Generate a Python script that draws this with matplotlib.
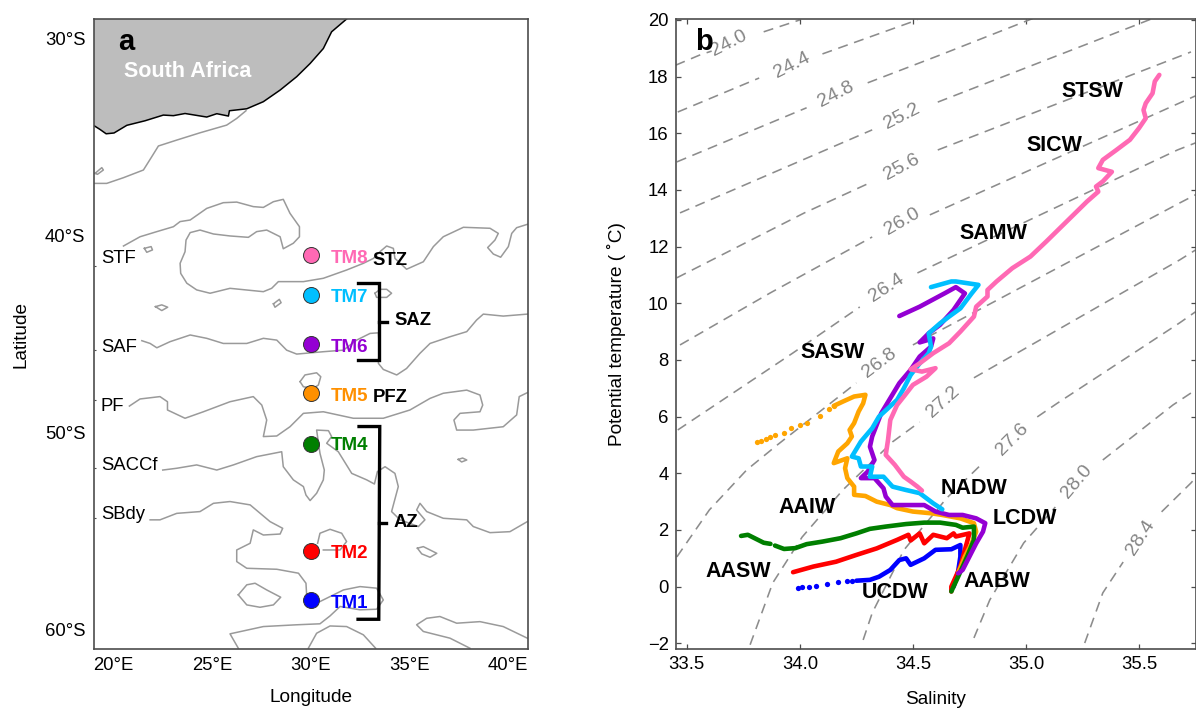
import matplotlib
matplotlib.use("Agg")
import matplotlib.pyplot as plt

plt.rcParams["font.family"] = ["Liberation Sans", "DejaVu Sans"]

# ---- panel a: map data (lon in deg E, lat in deg S) ----
coast_lon = [19.02, 19.32, 19.63, 20.03, 20.68, 21.6, 22.53, 23.04, 23.63, 24.73, 25.24, 25.83, 25.88,
             26.76, 27.6, 28.45, 29.29, 29.97, 30.64, 31.06, 31.82]
coast_lat = [34.42, 34.61, 34.83, 34.79, 34.4, 34.17, 33.88, 33.91, 33.8, 33.98, 33.81, 33.93, 33.66,
             33.56, 33.2, 32.61, 31.93, 31.26, 30.5, 29.65, 29.0]

agulhas_lon = [19.02, 19.66, 20.51, 21.52, 21.94, 22.28, 23.21, 24.39, 25.74, 26.25, 26.72]
agulhas_lat = [37.35, 37.35, 37.06, 36.67, 36.0, 35.45, 35.15, 34.78, 34.39, 34.05, 33.66]

stf_lon = [20.51, 21.35, 22.2, 23.04, 23.38, 23.89, 24.73, 25.57, 26.25, 27.09, 27.6, 28.11, 28.61, 28.95,
           29.43, 29.43, 29.12, 28.61, 28.45, 27.77, 27.26, 26.84, 25.91, 25.07, 24.39, 23.89, 23.68, 23.63,
           23.38, 23.41, 23.72, 24.22, 24.9, 25.91, 27.6, 28.02, 28.36, 29.63, 30.64, 31.82, 32.67, 33.18,
           33.51, 33.85, 34.19, 34.27, 34.86, 35.71, 36.22, 36.72, 37.74, 39.09, 39.51, 39.34, 38.97, 39.26,
           39.63, 40.02, 40.19, 40.44, 40.98]
stf_lat = [40.53, 40.06, 39.8, 39.55, 39.29, 39.21, 38.62, 38.33, 38.3, 38.53, 38.57, 38.28, 38.16, 38.87,
           39.55, 40.06, 40.39, 40.67, 40.06, 39.72, 39.8, 40.09, 40.02, 39.92, 39.72, 39.85, 40.23, 40.82,
           41.41, 41.92, 42.42, 42.76, 42.93, 42.68, 42.85, 42.68, 42.34, 42.34, 42.17, 41.75, 41.41, 41.16,
           40.82, 40.53, 40.65, 41.16, 41.71, 41.33, 40.56, 40.06, 39.58, 39.63, 39.89, 40.23, 40.61, 40.94,
           41.1, 40.56, 39.89, 39.6, 39.43]

saf_lon = [21.44, 21.86, 22.2, 22.87, 23.89, 24.73, 25.57, 26.76, 27.6, 28.28, 28.78, 29.29, 30.64, 31.66,
           32.33, 33.01, 33.43, 33.48, 33.43, 33.68, 34.36, 34.86, 35.54, 36.05, 37.06, 37.91, 38.41, 38.75,
           39.76, 40.98]
saf_lat = [45.34, 45.48, 45.7, 45.39, 45.05, 45.22, 45.48, 45.48, 45.22, 45.31, 45.82, 46.02, 45.9, 45.82,
           45.31, 44.97, 44.94, 45.65, 46.49, 46.8, 47.08, 46.75, 45.98, 45.48, 45.14, 44.88, 44.29, 43.99,
           44.09, 43.99]

pf_lon = [20.81, 21.35, 22.36, 22.74, 22.74, 23.63, 24.56, 25.91, 27.09, 27.52, 27.77, 27.6, 28.28, 28.95,
          29.63, 30.64, 32.16, 33.68, 35.03, 36.05, 36.72, 37.91, 38.58, 38.72, 38.58, 37.57, 37.26, 37.4,
          38.24, 39.76, 40.44, 40.57, 40.98]
pf_lat = [48.66, 48.3, 48.18, 48.44, 48.86, 49.28, 48.95, 48.44, 48.18, 48.61, 49.37, 50.21, 50.18, 49.71,
          49.03, 48.95, 49.28, 49.28, 48.86, 48.27, 48.01, 47.85, 48.1, 48.61, 48.95, 49.03, 49.37, 49.88,
          49.88, 49.71, 49.11, 48.18, 47.98]

saccf_lon = [22.5, 23.21, 24.22, 25.24, 26.08, 27.26, 28.53, 28.61, 29.12, 29.63, 29.76, 29.97, 30.3, 30.64,
             30.69, 30.47, 30.3, 30.9, 31.06, 30.81, 31.4, 32.08, 32.84, 33.23, 33.38, 33.77, 34.27, 34.44,
             34.1, 34.53, 35.46, 35.79, 35.37, 35.54, 35.88, 36.72, 37.91, 38.24, 39.09, 40.1, 40.98]
saccf_lat = [51.91, 51.82, 51.65, 51.91, 51.65, 51.23, 50.98, 51.74, 52.41, 52.75, 53.18, 53.46, 53.09, 52.41,
             51.91, 51.06, 49.88, 49.91, 50.21, 50.55, 50.98, 52.08, 52.41, 52.62, 51.99, 51.74, 52.08, 52.75,
             54.02, 54.44, 54.78, 54.44, 53.94, 53.6, 54.02, 54.36, 54.44, 54.78, 55.09, 55.04, 54.53]

sbdy_lon = [21.86, 22.36, 23.21, 24.39, 25.07, 25.91, 26.93, 27.94, 28.58, 28.45, 27.6, 27.09, 26.93, 26.25,
            26.25, 26.76, 28.28, 29.38, 29.76, 29.8, 30.47, 31.66, 32.5, 33.34, 33.68, 33.34, 32.5, 31.49,
            30.98, 30.47, 29.29, 27.6, 25.91, 26.33]
sbdy_lat = [54.44, 54.44, 54.11, 54.02, 53.6, 53.51, 53.68, 54.53, 54.87, 55.16, 55.21, 54.95, 55.63, 55.97,
            56.56, 56.9, 56.95, 57.15, 57.66, 58.34, 58.59, 58.0, 57.83, 57.91, 58.51, 58.98, 59.01, 58.84,
            59.32, 59.72, 59.77, 59.86, 60.23, 60.96]

# closed eddies and short pieces of the contours
eddies = [
    ([19.07, 19.41, 19.49, 19.19, 19.07], [36.84, 36.55, 36.67, 36.89, 36.84]),
    ([21.57, 21.91, 21.98, 21.69, 21.57], [40.65, 40.56, 40.73, 40.85, 40.65]),
    ([22.13, 22.45, 22.75, 22.45, 22.13], [43.61, 43.52, 43.64, 43.81, 43.61]),
    ([28.11, 28.41, 28.5, 28.19, 28.11], [43.47, 43.24, 43.41, 43.64, 43.47]),
    ([33.26, 33.51, 33.85, 34.1, 33.85, 33.34, 33.26], [42.93, 42.73, 42.73, 42.93, 43.14, 43.14, 42.93]),
    ([29.46, 29.71, 30.3, 30.51, 30.39, 30.14, 29.63, 29.46], [47.42, 47.08, 46.97, 47.17, 47.59, 47.76, 47.68, 47.42]),
    ([37.48, 37.7, 37.91, 37.65, 37.48], [51.37, 51.3, 51.4, 51.5, 51.37]),
    ([35.41, 35.71, 36.39, 36.05, 35.63, 35.41], [55.88, 55.8, 56.14, 56.34, 56.17, 55.88]),
    ([30.35, 30.47, 30.98, 31.57, 31.82, 31.49, 30.64], [55.63, 55.12, 54.92, 55.12, 55.54, 55.97, 55.97]),
    ([26.33, 26.76, 27.18, 27.77, 28.48, 28.11, 27.43, 26.76, 26.33], [58.25, 57.74, 57.66, 58.0, 58.37, 58.76, 58.88, 58.76, 58.25]),
    ([29.88, 30.3, 30.98, 31.82, 32.67, 33.29], [60.96, 60.2, 59.83, 59.86, 60.28, 60.96]),
    ([38.07, 37.06, 35.71, 35.37, 35.88, 36.55, 37.4, 38.58, 39.76, 40.98], [60.96, 60.45, 60.11, 59.77, 59.44, 59.35, 59.69, 59.61, 59.86, 60.45]),
]

station_names = ["TM8", "TM7", "TM6", "TM5", "TM4", "TM2", "TM1"]
station_lat = [41.0, 43.0, 45.5, 48.0, 50.6, 56.0, 58.5]
station_lon = [30, 30, 30, 30, 30, 30, 30]
station_cols = ["#FF69B4", "#00BFFF", "#9400D3", "#FF9000", "#007F00", "#FF0000", "#0000FF"]
name_lat = [41.16, 43.14, 45.68, 48.18, 50.67, 56.14, 58.67]

front_names = ["STF", "SAF", "PF", "SACCf", "SBdy"]
front_text_lat = [41.16, 45.68, 48.66, 51.69, 54.19]
front_tick_lat = [41.55, 45.81, 48.35, 51.8, 54.34]

# ---- panel b: T-S profiles (salinity, potential temperature) ----
tm8_s = [35.59, 35.57, 35.56, 35.53, 35.52, 35.53, 35.50, 35.46, 35.40, 35.34, 35.32, 35.38, 35.34, 35.31,
         35.32, 35.27, 35.21, 35.15, 35.09, 35.02, 34.94, 34.87, 34.83, 34.83, 34.78, 34.77, 34.71, 34.66,
         34.59, 34.53, 34.49, 34.54, 34.60, 34.56, 34.50, 34.46, 34.43, 34.40, 34.39, 34.38, 34.42, 34.46,
         34.49, 34.52, 34.54]
tm8_t = [18.06, 17.83, 17.41, 17.06, 16.82, 16.53, 16.18, 15.77, 15.41, 15.06, 14.77, 14.64, 14.3, 14.12,
         13.94, 13.59, 13.12, 12.65, 12.18, 11.65, 11.24, 10.77, 10.47, 10.24, 9.88, 9.53, 9.0, 8.59,
         8.24, 7.88, 7.67, 7.59, 7.71, 7.41, 7.12, 6.71, 6.41, 5.88, 5.18, 4.65, 4.3, 3.88,
         3.71, 3.53, 3.39]

tm7_s = [34.58, 34.67, 34.69, 34.79, 34.76, 34.71, 34.66, 34.62, 34.57, 34.58, 34.57, 34.53, 34.49, 34.46,
         34.43, 34.35, 34.32, 34.27, 34.23, 34.26, 34.27, 34.32, 34.31, 34.37, 34.41, 34.47, 34.53, 34.59, 34.63]
tm7_t = [10.57, 10.77, 10.77, 10.65, 10.35, 9.82, 9.53, 9.29, 8.94, 8.47, 8.24, 7.88, 7.47, 7.0,
         6.59, 6.0, 5.59, 5.12, 4.59, 4.53, 4.24, 4.24, 3.88, 3.88, 3.53, 3.41, 3.3, 2.94, 2.73]

tm6_s = [34.44, 34.53, 34.64, 34.69, 34.73, 34.68, 34.62, 34.57, 34.53, 34.59, 34.58, 34.53, 34.49, 34.44,
         34.40, 34.36, 34.32, 34.31, 34.33, 34.30, 34.27, 34.33, 34.37, 34.38, 34.41, 34.50, 34.55, 34.60,
         34.66, 34.72, 34.78, 34.82, 34.81, 34.78, 34.75, 34.72, 34.70]
tm6_t = [9.55, 9.88, 10.35, 10.57, 10.35, 9.77, 9.24, 8.94, 8.62, 8.76, 8.47, 8.12, 7.65, 7.18,
         6.65, 6.12, 5.3, 4.94, 4.47, 4.06, 3.83, 3.83, 3.47, 3.18, 2.88, 2.88, 2.88, 2.65,
         2.53, 2.53, 2.41, 2.24, 1.94, 1.53, 1.06, 0.59, 0.47]

tm5_dot_s = [33.81, 33.83, 33.85, 33.87, 33.89, 33.93, 33.96, 34.0, 34.03, 34.09, 34.13, 34.15]
tm5_dot_t = [5.12, 5.15, 5.2, 5.27, 5.36, 5.44, 5.61, 5.71, 5.77, 6.03, 6.26, 6.38]
tm5_s = [34.15, 34.19, 34.24, 34.29, 34.28, 34.26, 34.24, 34.22, 34.23, 34.21, 34.17, 34.15, 34.21, 34.2,
         34.21, 34.24, 34.24, 34.29, 34.34, 34.4, 34.43, 34.5, 34.58, 34.63, 34.71, 34.77, 34.78, 34.76,
         34.73, 34.7]
tm5_t = [6.38, 6.53, 6.71, 6.77, 6.47, 6.18, 5.77, 5.53, 5.3, 5.06, 4.77, 4.36, 4.53, 4.18,
         3.83, 3.53, 3.24, 3.2, 3.0, 2.88, 2.77, 2.65, 2.59, 2.53, 2.41, 2.24, 1.94, 1.53,
         1.06, 0.47]

tm4_s = [33.74, 33.77, 33.81, 33.84, 33.87]
tm4_t = [1.79, 1.83, 1.67, 1.55, 1.51]
tm4b_s = [33.89, 33.93, 33.98, 34.03, 34.1, 34.18, 34.25, 34.31, 34.38, 34.47, 34.55, 34.62, 34.69, 34.72,
          34.77, 34.77, 34.74, 34.7, 34.67]
tm4b_t = [1.45, 1.33, 1.36, 1.5, 1.59, 1.71, 1.88, 2.04, 2.12, 2.21, 2.26, 2.26, 2.18, 2.08,
          2.12, 1.65, 1.06, 0.35, -0.17]

tm2_s = [33.97, 34.06, 34.16, 34.25, 34.34, 34.43, 34.48, 34.49, 34.53, 34.55, 34.59, 34.65, 34.68, 34.69,
         34.75, 34.73, 34.71, 34.67, 34.67]
tm2_t = [0.51, 0.71, 0.88, 1.12, 1.35, 1.65, 1.83, 1.63, 1.88, 1.53, 1.83, 1.71, 1.88, 1.77,
         1.88, 1.3, 0.71, 0.0, -0.17]

tm1_dot_s = [33.99, 34.01, 34.04, 34.07, 34.12, 34.17, 34.21, 34.23]
tm1_dot_t = [-0.06, -0.02, 0.0, 0.02, 0.1, 0.18, 0.19, 0.2]
tm1_s = [34.25, 34.31, 34.35, 34.4, 34.44, 34.47, 34.49, 34.55, 34.6, 34.67, 34.71, 34.71, 34.7, 34.68]
tm1_t = [0.21, 0.24, 0.35, 0.59, 0.94, 1.0, 0.77, 1.0, 1.3, 1.32, 1.47, 1.06, 0.53, 0.0]

# isopycnals, two pieces each, the gap holds the label
isopycnals = {
    "24.0": ([[33.45, 33.56, 33.61], [18.4, 18.77, 18.9]], [[33.84, 34.0], [19.58, 20.0]], 33.686, 19.16, 27),
    "24.4": ([[33.46, 33.82], [16.75, 17.95]], [[34.10, 34.52], [18.8, 20.0]], 33.965, 18.41, 27),
    "24.8": ([[33.456, 34.03], [14.99, 16.9]], [[34.30, 34.62, 35.03], [17.78, 18.76, 20.05]], 34.159, 17.36, 27),
    "25.2": ([[33.47, 34.32], [13.19, 16.12]], [[34.61, 35.49, 35.56], [17.1, 19.83, 20.05]], 34.451, 16.58, 27),
    "25.6": ([[33.456, 34.02, 34.32], [10.9, 13.19, 14.29]], [[34.61, 35.73], [15.41, 18.87]], 34.451, 14.81, 28),
    "26.0": ([[33.47, 33.87, 34.32], [8.53, 10.37, 12.34]], [[34.575, 35.75], [13.12, 17.32]], 34.451, 12.87, 30),
    "26.4": ([[33.46, 33.97, 34.265], [5.53, 8.25, 9.87]], [[34.52, 35.67, 35.75], [11.07, 15.41, 15.66]], 34.385, 10.54, 33),
    "26.8": ([[33.456, 33.60, 33.765, 33.90, 34.25], [1.05, 2.71, 4.12, 5.0, 7.19]],
             [[34.5, 35.68, 35.75], [8.53, 13.54, 13.83]], 34.35, 7.9, 37),
    "27.2": ([[33.78, 33.82, 33.88, 34.01, 34.19, 34.41, 34.53], [-2.05, -1.18, 0.13, 1.75, 3.41, 5.11, 5.81]],
             [[34.77, 35.68, 35.75], [7.37, 11.53, 11.88]], 34.633, 6.52, 42),
    "27.6": ([[34.28, 34.32, 34.46, 34.65, 34.81], [-1.88, -0.93, 1.29, 3.13, 4.37]],
             [[35.05, 35.14, 35.68, 35.75], [5.99, 6.48, 9.31, 9.7]], 34.938, 5.21, 45),
    "28.0": ([[34.77, 34.84, 34.99, 35.13], [-1.81, -0.47, 1.54, 2.81]],
             [[35.34, 35.65, 35.75], [4.47, 6.41, 6.94]], 35.226, 3.7, 50),
    "28.4": ([[35.26, 35.34, 35.43], [-1.99, -0.22, 0.87]],
             [[35.6, 35.73, 35.75], [2.64, 3.66, 3.84]], 35.509, 1.75, 57),
}

water_names = ["STSW", "SICW", "SAMW", "SASW", "NADW", "LCDW", "AABW", "UCDW", "AAIW", "AASW"]
water_s = [35.292, 35.128, 34.854, 34.146, 34.77, 34.996, 34.872, 34.42, 34.03, 33.726]
water_t = [17.46, 15.56, 12.45, 8.25, 3.48, 2.39, 0.17, -0.22, 2.78, 0.52]

W, H = 1196, 708
fig = plt.figure(figsize=(W / 100, H / 100), dpi=100)
ax1 = fig.add_axes([93.7 / W, (H - 649) / H, 434 / W, 630 / H])
ax2 = fig.add_axes([675.5 / W, (H - 649) / H, 520 / W, 630.5 / H])

spine_col = "#4d4d4d"
line_col = "#9a9a9a"
fs = 13.3

# panel a
ax1.set_xlim(19, 41)
ax1.set_ylim(61, 29)
ax1.fill(coast_lon + [19.0, 19.0], coast_lat + [29.0, 34.42], color="#bdbdbd", lw=0)
ax1.plot(coast_lon, coast_lat, color="k", lw=1.1)

for lon, lat in [(agulhas_lon, agulhas_lat), (stf_lon, stf_lat), (saf_lon, saf_lat), (pf_lon, pf_lat),
                 (saccf_lon, saccf_lat), (sbdy_lon, sbdy_lat)] + eddies:
    ax1.plot(lon, lat, color=line_col, lw=1.1, solid_joinstyle="round")

for lon, lat, c in zip(station_lon, station_lat, station_cols):
    ax1.plot(lon, lat, "o", ms=11.5, mfc=c, mec="#333333", mew=0.7, zorder=5)
for name, lat, c in zip(station_names, name_lat, station_cols):
    ax1.text(31.0, lat, name, color=c, fontsize=13.5, fontweight="bold", va="center", zorder=6)

for name, lat in zip(front_names, front_text_lat):
    ax1.text(19.36, lat, name, fontsize=fs, va="center")

ax1.text(33.14, 41.27, "STZ", fontsize=fs, fontweight="bold", va="center", zorder=6)
ax1.text(33.14, 48.23, "PFZ", fontsize=fs, fontweight="bold", va="center", zorder=6)
ax1.text(34.24, 44.29, "SAZ", fontsize=fs, fontweight="bold", va="center", zorder=6)
ax1.text(34.22, 54.56, "AZ", fontsize=fs, fontweight="bold", va="center", zorder=6)

# brackets
ax1.plot([32.42, 33.48, 33.48, 32.42], [42.39, 42.39, 46.32, 46.32], color="k", lw=2.4, solid_joinstyle="miter")
ax1.plot([33.48, 33.85], [44.37, 44.37], color="k", lw=2.4)
ax1.plot([32.45, 33.5, 33.45, 32.4], [49.7, 49.7, 59.49, 59.49], color="k", lw=2.4, solid_joinstyle="miter")
ax1.plot([33.47, 33.82], [54.58, 54.58], color="k", lw=2.4)

ax1.text(20.56, 31.65, "South Africa", color="white", fontsize=15.5, fontweight="bold", va="center")
ax1.text(20.25, 30.58, "a", fontsize=21, fontweight="bold", va="baseline")

ax1.set_xticks([20, 25, 30, 35, 40])
ax1.set_xticklabels(["20°E", "25°E", "30°E", "35°E", "40°E"])
ax1.set_yticks([30, 40, 50, 60])
ax1.set_yticklabels(["30°S", "40°S", "50°S", "60°S"])
ax1.set_yticks(front_tick_lat, minor=True)
ax1.tick_params(axis="both", which="major", length=0, labelsize=fs, pad=6)
ax1.tick_params(axis="y", which="minor", direction="in", length=1.5, color=spine_col, width=0.8)
ax1.set_xlabel("Longitude", fontsize=13.7)
ax1.set_ylabel("Latitude", fontsize=13.7)
ax1.xaxis.set_label_coords(0.5, -0.0635)
ax1.yaxis.set_label_coords(-0.147, 0.5)

# panel b
ax2.set_xlim(33.45, 35.75)
ax2.set_ylim(-2.2, 20.05)

for label, (seg1, seg2, sx, ty, rot) in isopycnals.items():
    ax2.plot(seg1[0], seg1[1], color="#8c8c8c", lw=1.15, dashes=(6.3, 4.2))
    ax2.plot(seg2[0], seg2[1], color="#8c8c8c", lw=1.15, dashes=(6.3, 4.2))
    ax2.text(sx, ty, label, color="#858585", fontsize=14, rotation=rot, rotation_mode="anchor",
             ha="center", va="center")

lw = 3.3
ax2.plot(tm1_s, tm1_t, color=station_cols[6], lw=lw, solid_capstyle="round", solid_joinstyle="round")
ax2.plot(tm1_dot_s, tm1_dot_t, "o", color=station_cols[6], ms=3.8, mew=0)
ax2.plot(tm2_s, tm2_t, color=station_cols[5], lw=lw, solid_capstyle="round", solid_joinstyle="round")
ax2.plot(tm5_s, tm5_t, color="#FFA500", lw=lw, solid_capstyle="round", solid_joinstyle="round")
ax2.plot(tm5_dot_s, tm5_dot_t, "o", color="#FFA500", ms=3.8, mew=0)
ax2.plot(tm4_s, tm4_t, color=station_cols[4], lw=lw, solid_capstyle="round")
ax2.plot(tm4b_s, tm4b_t, color=station_cols[4], lw=lw, solid_capstyle="round", solid_joinstyle="round")
ax2.plot(tm6_s, tm6_t, color=station_cols[2], lw=lw, solid_capstyle="round", solid_joinstyle="round")
ax2.plot(tm7_s, tm7_t, color=station_cols[1], lw=lw, solid_capstyle="round", solid_joinstyle="round")
ax2.plot(tm8_s, tm8_t, color=station_cols[0], lw=lw, solid_capstyle="round", solid_joinstyle="round")

for name, s, t in zip(water_names, water_s, water_t):
    ax2.text(s, t, name, fontsize=15.5, fontweight="bold", ha="center", va="center", zorder=6)

ax2.text(33.535, 18.94, "b", fontsize=21, fontweight="bold", va="baseline", zorder=6)

ax2.set_xticks([33.5, 34.0, 34.5, 35.0, 35.5])
ax2.set_xticklabels(["33.5", "34.0", "34.5", "35.0", "35.5"])
ax2.set_yticks(range(-2, 21, 2))
ax2.tick_params(axis="both", direction="in", top=True, right=True, length=3.5, width=0.9, color=spine_col,
                labelsize=fs, pad=5)
ax2.set_xlabel("Salinity", fontsize=13.7)
ax2.set_ylabel("Potential temperature ( ˚C)", fontsize=13.7)
ax2.xaxis.set_label_coords(0.5, -0.066)
ax2.yaxis.set_label_coords(-0.096, 0.5)

for ax in ax1, ax2:
    for sp in ax.spines.values():
        sp.set_color(spine_col)
        sp.set_linewidth(1.2)

fig.savefig("out.png", dpi=100)
